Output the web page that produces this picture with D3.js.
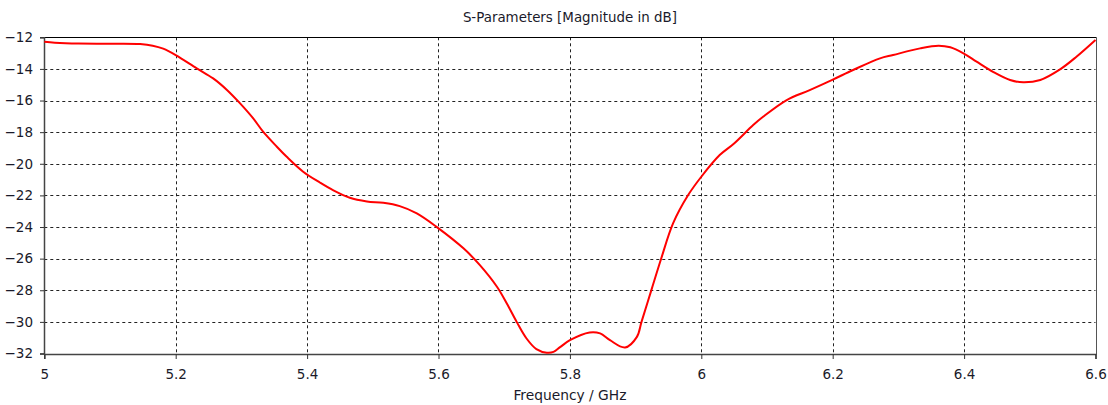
<!DOCTYPE html>
<html>
<head>
<meta charset="utf-8">
<script src="https://cdn.jsdelivr.net/npm/d3@7"></script>
<style>
  html, body { margin: 0; padding: 0; background: #fff; }
  svg { display: block; font-family: "DejaVu Sans", Verdana, sans-serif; }
</style>
</head>
<body>
<svg id="chart" width="1108" height="405"></svg>
<script>
const title = "S-Parameters [Magnitude in dB]";
const xLabel = "Frequency / GHz";
const xTicks = [5, 5.2, 5.4, 5.6, 5.8, 6, 6.2, 6.4, 6.6];
const yTicks = [-12, -14, -16, -18, -20, -22, -24, -26, -28, -30, -32];
const freq = [5.0, 5.016, 5.052, 5.1, 5.146, 5.165, 5.181, 5.2, 5.232, 5.257, 5.278, 5.298, 5.318, 5.333, 5.354, 5.369, 5.394, 5.42, 5.44, 5.465, 5.491, 5.516, 5.541, 5.567, 5.597, 5.638, 5.663, 5.689, 5.704, 5.719, 5.734, 5.749, 5.765, 5.775, 5.785, 5.8, 5.83, 5.846, 5.861, 5.884, 5.902, 5.909, 5.924, 5.939, 5.957, 5.98, 6.0, 6.028, 6.049, 6.079, 6.094, 6.13, 6.165, 6.201, 6.231, 6.272, 6.292, 6.333, 6.361, 6.379, 6.399, 6.419, 6.444, 6.47, 6.49, 6.516, 6.546, 6.571, 6.6];
const s11 = [-12.28, -12.34, -12.4, -12.41, -12.43, -12.53, -12.72, -13.12, -13.96, -14.6, -15.33, -16.18, -17.13, -17.97, -18.92, -19.56, -20.5, -21.2, -21.68, -22.15, -22.38, -22.47, -22.68, -23.14, -23.99, -25.35, -26.41, -27.78, -28.84, -30.0, -31.05, -31.72, -31.95, -31.9, -31.6, -31.16, -30.67, -30.73, -31.16, -31.62, -30.95, -30.0, -27.99, -25.99, -23.77, -21.98, -20.82, -19.45, -18.75, -17.55, -17.03, -15.97, -15.34, -14.66, -14.07, -13.33, -13.12, -12.7, -12.53, -12.63, -13.01, -13.54, -14.18, -14.7, -14.85, -14.7, -14.03, -13.23, -12.17];

const W = 1108, H = 405;
const m = { left: 44.3, right: 12.5, top: 37.3, bottom: 51.5 };
const svg = d3.select("#chart");
const x = d3.scaleLinear().domain([5, 6.6]).range([m.left, W - m.right]);
const y = d3.scaleLinear().domain([-32, -12]).range([H - m.bottom, m.top]);

// grid
const grid = svg.append("g");
grid.selectAll("line.h").data(yTicks.filter(v => v !== -12 && v !== -32)).enter().append("line")
  .attr("x1", x(5)).attr("x2", x(6.6))
  .attr("y1", d => Math.round(y(d)) + 0.5).attr("y2", d => Math.round(y(d)) + 0.5)
  .attr("stroke", "#222").attr("stroke-dasharray", "3,3").attr("stroke-width", 1);
grid.selectAll("line.v").data(xTicks.filter(v => v !== 5 && v !== 6.6)).enter().append("line")
  .attr("y1", y(-12)).attr("y2", y(-32))
  .attr("x1", d => Math.round(x(d)) + 0.5).attr("x2", d => Math.round(x(d)) + 0.5)
  .attr("stroke", "#222").attr("stroke-dasharray", "3,3").attr("stroke-width", 1);

// frame
const x0 = Math.round(x(5)) + 0.5, x1 = Math.round(x(6.6)) + 0.5;
const y0 = Math.round(y(-12)) + 0.5, y1 = Math.round(y(-32)) + 0.5;
svg.append("line").attr("x1", x0).attr("x2", x1).attr("y1", y0).attr("y2", y0).attr("stroke", "#000");
svg.append("line").attr("x1", x1).attr("x2", x1).attr("y1", y0).attr("y2", y1).attr("stroke", "#555");

// axes
const xAxis = d3.axisBottom(x).tickValues(xTicks).tickFormat(d3.format("")).tickSize(5).tickPadding(10);
const yAxis = d3.axisLeft(y).tickValues(yTicks).tickFormat(d3.format("")).tickSize(4).tickPadding(7);
const gx = svg.append("g").attr("transform", `translate(0,${y1 - 0.5})`).call(xAxis);
const gy = svg.append("g").attr("transform", `translate(${x0 - 0.5},0)`).call(yAxis);
[gx, gy].forEach(g => {
  g.select(".domain").attr("stroke", "#444").attr("stroke-width", 1.5);
  g.selectAll(".tick line").attr("stroke", "#333");
  g.selectAll(".tick text").attr("fill", "#1a1a2a").style("font-size", "13.5px")
   .style("font-family", '"DejaVu Sans", Verdana, sans-serif');
});

// curve
const pts = freq.map((f, i) => [f, s11[i]]);
svg.append("path").datum(pts)
  .attr("fill", "none").attr("stroke", "#ff0000").attr("stroke-width", 2)
  .attr("stroke-linejoin", "round")
  .attr("d", d3.line().x(d => x(d[0])).y(d => y(d[1])).curve(d3.curveCatmullRom.alpha(0.5)));

// texts
svg.append("text").attr("x", (m.left + W - m.right) / 2).attr("y", 22)
  .attr("text-anchor", "middle").attr("fill", "#1a1a2a").style("font-size", "13.4px").text(title);
svg.append("text").attr("x", (m.left + W - m.right) / 2).attr("y", 400)
  .attr("text-anchor", "middle").attr("fill", "#1a1a2a").style("font-size", "13.8px").text(xLabel);
</script>
</body>
</html>
